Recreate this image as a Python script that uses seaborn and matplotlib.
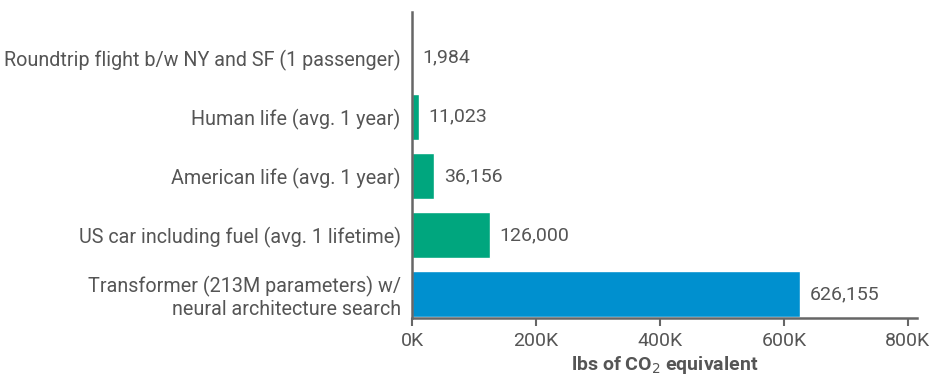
import matplotlib
matplotlib.use("Agg")
import matplotlib.pyplot as plt
import seaborn as sns
import pandas as pd

categories = [
    "Roundtrip flight b/w NY and SF (1 passenger)",
    "Human life (avg. 1 year)",
    "American life (avg. 1 year)",
    "US car including fuel (avg. 1 lifetime)",
    "Transformer (213M parameters) w/\nneural architecture search",
]
values = [1984, 11023, 36156, 126000, 626155]
groups = ["everyday", "everyday", "everyday", "everyday", "model"]
tick_values = [0, 200000, 400000, 600000, 800000]
tick_labels = ["0K", "200K", "400K", "600K", "800K"]

palette = {"everyday": "#00A67E", "model": "#0090CF"}
text_color = "#555555"
axis_color = "#666666"

sns.set_theme(style="white")
plt.rcParams["font.family"] = ["Roboto", "DejaVu Sans"]

df = pd.DataFrame({"category": categories, "value": values, "group": groups})

fig = plt.figure(figsize=(9.32, 3.79), dpi=100)
ax = fig.add_axes([0.442, 0.161, 0.542, 0.807])

sns.barplot(data=df, y="category", x="value", hue="group", palette=palette,
            order=categories, dodge=False, width=0.78, legend=False,
            saturation=1, ax=ax)

for i, v in enumerate(values):
    ax.text(v + 15000, i, f"{v:,}", va="center", ha="left",
            fontsize=14, color=text_color)

ax.set_xlim(0, 815000)
ax.set_ylim(4.4, -0.77)
ax.set_xticks(tick_values)
ax.set_xticklabels(tick_labels)
ax.set_ylabel("")
ax.set_xlabel("lbs of CO$_2$ equivalent", fontsize=14, fontweight="bold",
              color=text_color, labelpad=3)

for side in ["top", "right"]:
    ax.spines[side].set_visible(False)
for side in ["left", "bottom"]:
    ax.spines[side].set_color(axis_color)
    ax.spines[side].set_linewidth(1.8)

ax.tick_params(axis="x", bottom=True, length=6, width=1.5, color=axis_color,
               labelsize=14, labelcolor=text_color, pad=4)
ax.tick_params(axis="y", left=False, length=0, labelsize=14.2,
               labelcolor=text_color, pad=8)

fig.savefig("out.png", dpi=100)
